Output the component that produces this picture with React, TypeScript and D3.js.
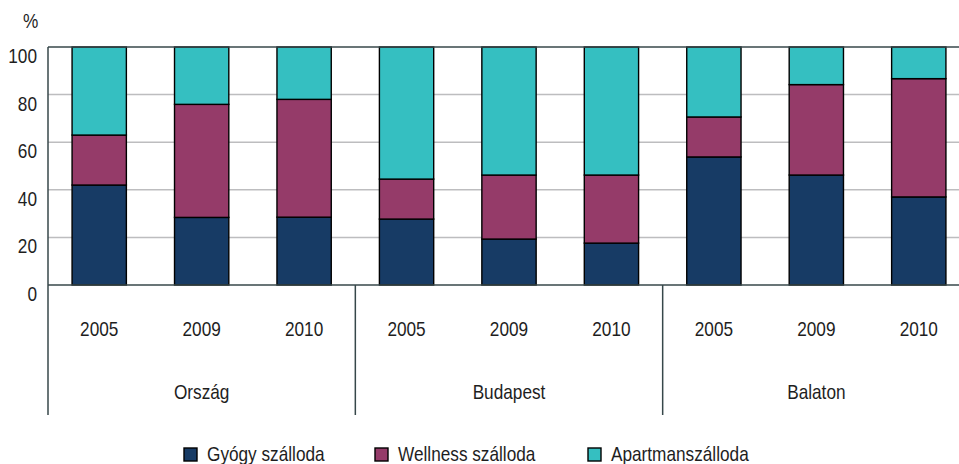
import * as React from 'react';
import {useEffect, useRef} from 'react';
import * as d3 from 'd3';

const groups = ['Ország', 'Budapest', 'Balaton'];
const years = ['2005', '2009', '2010'];
const seriesNames = ['Gyógy szálloda', 'Wellness szálloda', 'Apartmanszálloda'];
const gyogy = [42, 28.4, 28.5, 27.7, 19.3, 17.6, 53.8, 46.2, 37];
const wellness = [21, 47.5, 49.5, 16.8, 26.9, 28.6, 16.8, 38, 49.7];
const apartman = [37, 24.1, 22, 55.5, 53.8, 53.8, 29.4, 15.8, 13.3];
const yTicks = [0, 20, 40, 60, 80, 100];

const colors = ['#173b65', '#953b69', '#35bfc1'];
const FONT = '"Liberation Sans", Arial, sans-serif';
const SX = 0.82; // narrow look of the original font

const App = () => {
    const ref = useRef<SVGSVGElement>(null);

    useEffect(() => {
        const svg = d3.select(ref.current);
        svg.selectAll('*').remove();

        const left = 48, right = 970, top = 47, bottom = 285;

        const rows = groups.flatMap((g, gi) => years.map((y, yi) => {
            const i = gi * 3 + yi;
            return {key: g + y, group: g, year: y, g0: gyogy[i], g1: wellness[i], g2: apartman[i]};
        }));

        const x = d3.scaleBand<string>()
            .domain(rows.map(d => d.key))
            .range([left, right])
            .paddingInner(0.47)
            .paddingOuter(0.235);

        const y = d3.scaleLinear().domain([0, 100]).range([bottom, top]);

        const stacked = d3.stack<any>().keys(['g0', 'g1', 'g2'])(rows);

        const label = (sel: any, tx: (d: any, i: number) => number, ty: (d: any, i: number) => number,
                       anchor: string, size = 21) =>
            sel.attr('transform', (d: any, i: number) => `translate(${tx(d, i)},${ty(d, i)}) scale(${SX},1)`)
                .attr('text-anchor', anchor)
                .attr('font-family', FONT)
                .attr('font-size', size)
                .attr('fill', '#1e1e1e');

        // grid
        svg.append('g').selectAll('line')
            .data(yTicks.filter(t => t > 0 && t < 100))
            .enter().append('line')
            .attr('x1', left).attr('x2', 959)
            .attr('y1', d => y(d)).attr('y2', d => y(d))
            .attr('stroke', '#bdbdbf').attr('stroke-width', 1.5);

        // bars
        svg.append('g').selectAll('g')
            .data(stacked)
            .enter().append('g')
            .attr('fill', (d, i) => colors[i])
            .selectAll('rect')
            .data(d => d)
            .enter().append('rect')
            .attr('x', d => x(d.data.key)!)
            .attr('width', x.bandwidth())
            .attr('y', d => y(d[1]))
            .attr('height', d => y(d[0]) - y(d[1]))
            .attr('stroke', '#000')
            .attr('stroke-width', 1.4);

        // frame
        const axisColor = '#37474a';
        svg.append('line').attr('x1', left).attr('x2', 959).attr('y1', top).attr('y2', top)
            .attr('stroke', axisColor).attr('stroke-width', 1.5);
        svg.append('line').attr('x1', left).attr('x2', 959).attr('y1', bottom).attr('y2', bottom)
            .attr('stroke', axisColor).attr('stroke-width', 1.5);
        svg.append('line').attr('x1', left).attr('x2', left).attr('y1', top).attr('y2', 415)
            .attr('stroke', axisColor).attr('stroke-width', 1.5);

        // y tick labels
        label(svg.append('g').selectAll('text')
            .data(yTicks)
            .enter().append('text')
            .text((d: number) => d), () => 37, (d: number) => y(d) + 16, 'end');

        label(svg.append('text').text('%'), () => 23, () => 28, 'start');

        // year labels
        label(svg.append('g').selectAll('text')
            .data(rows)
            .enter().append('text')
            .text((d: any) => d.year), (d: any) => x(d.key)! + x.bandwidth() / 2, () => 336, 'middle');

        // group labels and separators
        const step = x.step();
        groups.forEach((g, gi) => {
            const x0 = left + gi * 3 * step;
            if (gi > 0) {
                svg.append('line').attr('x1', x0).attr('x2', x0).attr('y1', bottom).attr('y2', 415)
                    .attr('stroke', axisColor).attr('stroke-width', 1.5);
            }
            label(svg.append('text').text(g), () => x0 + 1.5 * step, () => 399, 'middle');
        });

        // legend
        const legendX = [184, 375, 588];
        const lg = svg.append('g').selectAll('g')
            .data(seriesNames)
            .enter().append('g')
            .attr('transform', (d, i) => `translate(${legendX[i]}, 448)`);
        lg.append('rect')
            .attr('width', 13).attr('height', 13)
            .attr('fill', (d, i) => colors[i])
            .attr('stroke', '#000').attr('stroke-width', 1.4);
        label(lg.append('text').text((d: string) => d), () => 23, () => 13, 'start');
    }, []);

    return (
        <svg ref={ref} width={959} height={464}
             style={{position: 'fixed', top: 0, left: 0, background: '#fff'}} />
    );
};

export default App;
